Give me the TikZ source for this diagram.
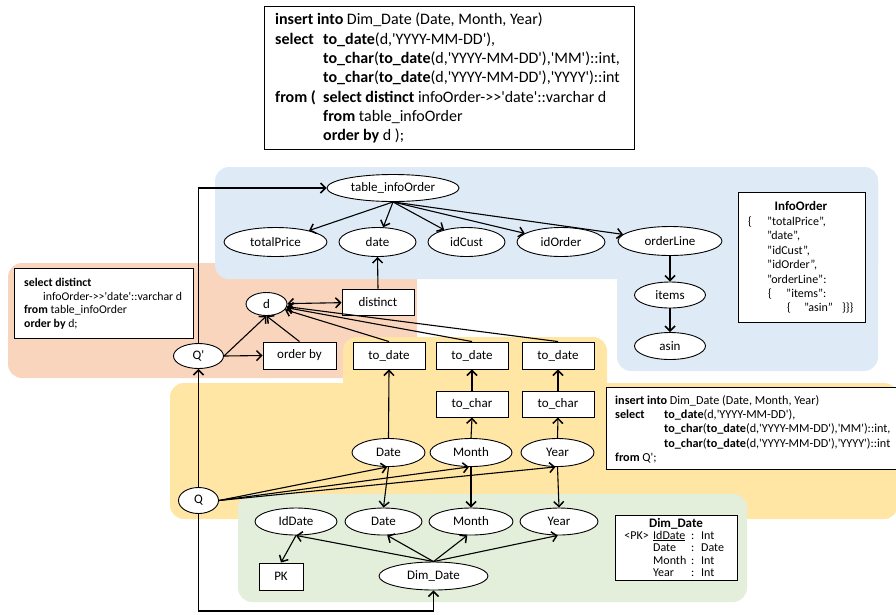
\documentclass[tikz,border=0pt]{standalone}
\usepackage{fontspec}
\setmainfont{Carlito}
\usetikzlibrary{arrows.meta,shapes.geometric}
% straight apostrophe and plain ">>", kept out of the TeX quote mapping
\newcommand\sq{\XeTeXglyph\XeTeXcharglyph"27\relax}
\newcommand\dblgt{>\kern0pt>}
\definecolor{bgblue}{RGB}{222,235,247}
\definecolor{bgorange}{RGB}{249,213,190}
\definecolor{bgyellow}{RGB}{255,230,165}
\definecolor{bggreen}{RGB}{227,239,219}
\begin{document}
\begin{tikzpicture}[x=1pt,y=-1pt,
  lbl/.style={font=\fontsize{13}{15}\selectfont},
  ell/.style={ellipse, draw, fill=white, line width=0.9pt, inner sep=0pt, lbl},
  box/.style={rectangle, draw, fill=white, line width=0.9pt, inner sep=0pt, lbl},
  frame/.style={rectangle, draw, fill=white, line width=0.9pt, inner sep=0pt, anchor=north west},
  barb/.tip={Straight Barb[length=5pt,width=10pt,line width=1.5pt]},
  arr/.style={line width=1.1pt, -barb},
  biarr/.style={line width=1.1pt, barb-barb},
  big/.style={anchor=base west, inner sep=0pt, font=\fontsize{16}{18}\selectfont},
  mid/.style={anchor=base west, inner sep=0pt, font=\fontsize{12.2}{14}\selectfont},
  small/.style={anchor=base west, inner sep=0pt, font=\fontsize{11.8}{13}\selectfont},
  schema/.style={anchor=base west, inner sep=0pt, font=\fontsize{12}{13}\selectfont},
  region/.style={rounded corners=14pt},
]
\useasboundingbox (0,0) rectangle (896,614);

% ---- coloured areas ----
\fill[bgorange, region] (8,263) rectangle (417,378);
\fill[bgblue, region] (215,167) rectangle (878,279);
\fill[bgblue, region] (617,167) rectangle (878,371);
\fill[bgyellow, region] (343,337) rectangle (607,400);
\fill[bgyellow, region] (170,383) rectangle (898,519);
\fill[bggreen, region] (238,494) rectangle (747,602);

% ---- SQL of the whole load ----
\node[frame, minimum width=370pt, minimum height=143pt] (sqltop) at (264,6) {};
\node[big] (t1) at (275,24.8) {\textbf{insert into} Dim\_Date (Date, Month, Year)};
\node[big] (t2a) at (275,44.1) {\textbf{select}};
\node[big] (t2b) at (323,44.1) {\textbf{to\_date}(d,\sq YYYY-MM-DD\sq),};
\node[big] (t3) at (323,63.4) {\textbf{to\_char}(\textbf{to\_date}(d,\sq YYYY-MM-DD\sq),\sq MM\sq)::int,};
\node[big] (t4) at (323,82.7) {\textbf{to\_char}(\textbf{to\_date}(d,\sq YYYY-MM-DD\sq),\sq YYYY\sq)::int};
\node[big] (t5a) at (275,102) {\textbf{from (}};
\node[big] (t5b) at (323,102) {\textbf{select distinct} infoOrder-\dblgt\sq date\sq::varchar d};
\node[big] (t6) at (323,121.3) {\textbf{from} table\_infoOrder};
\node[big] (t7) at (323,140.6) {\textbf{order by} d );};

% ---- sub-query Q' ----
\node[frame, minimum width=179pt, minimum height=70pt] (sqlleft) at (14,268) {};
\node[small] (l1) at (24,286) {\textbf{select distinct}};
\node[small] (l2) at (43,300) {infoOrder-\dblgt\sq date\sq::varchar d};
\node[small] (l3) at (24,313.5) {\textbf{from} table\_infoOrder};
\node[small] (l4) at (24,327.5) {\textbf{order by} d;};

% ---- insert of Q ----
\node[frame, minimum width=300pt, minimum height=82pt] (sqlright) at (606,387) {};
\node[mid] (r1) at (615,404) {\textbf{insert into} Dim\_Date (Date, Month, Year)};
\node[mid] (r2a) at (615,418) {\textbf{select}};
\node[mid] (r2b) at (664,418) {\textbf{to\_date}(d,\sq YYYY-MM-DD\sq),};
\node[mid] (r3) at (664,432.8) {\textbf{to\_char}(\textbf{to\_date}(d,\sq YYYY-MM-DD\sq),\sq MM\sq)::int,};
\node[mid] (r4) at (664,447.3) {\textbf{to\_char}(\textbf{to\_date}(d,\sq YYYY-MM-DD\sq),\sq YYYY\sq)::int};
\node[mid] (r5) at (615,461.8) {\textbf{from} Q\sq;};

% ---- document schema ----
\node[frame, minimum width=127pt, minimum height=130pt] (infobox) at (738,192) {};
\node[anchor=base, inner sep=0pt, font=\fontsize{13}{14}\selectfont\bfseries] (ititle) at (801,210.5) {InfoOrder};
\node[schema] (i1a) at (748,225.8) {\{};
\node[schema] (i1b) at (767,225.8) {"totalPrice",};
\node[schema] (i2) at (767,239.8) {"date",};
\node[schema] (i3) at (767,254) {"idCust",};
\node[schema] (i4) at (767,268.5) {"idOrder",};
\node[schema] (i5) at (767,283) {"orderLine":};
\node[schema] (i6a) at (768,297.8) {\{};
\node[schema] (i6b) at (786,297.8) {"items":};
\node[schema] (i7a) at (787,311) {\{};
\node[schema] (i7b) at (804,311) {"asin"};
\node[schema] (i7c) at (842,311) {\}\}\}};

% ---- relational schema ----
\node[frame, minimum width=122pt, minimum height=65pt] (dimbox) at (615,515) {};
\node[anchor=base, inner sep=0pt, font=\fontsize{13}{14}\selectfont\bfseries] (dtitle) at (676,527.3) {Dim\_Date};
\node[schema, anchor=base east] (k1) at (649,539) {<PK>};
\node[schema] (k2) at (653,539) {\underline{IdDate}};
\node[schema] (k3) at (653,551) {Date};
\node[schema] (k4) at (653,564) {Month};
\node[schema] (k5) at (653,576.5) {Year};
\foreach \yy/\val [count=\i] in {539/Int,551/Date,564/Int,576.5/Int}{
  \node[schema] (c\i) at (691,\yy) {:};
  \node[schema] (v\i) at (701,\yy) {\val};
}

% ---- document side ----
\node[ell, minimum width=132pt, minimum height=27pt] (tio) at (393,188) {table\_infoOrder};
\node[ell, minimum width=103pt, minimum height=29pt] (tp) at (275.5,242) {totalPrice};
\node[ell, minimum width=77pt, minimum height=29pt] (dt) at (377.5,242) {date};
\node[ell, minimum width=77pt, minimum height=29pt] (ic) at (466.5,242) {idCust};
\node[ell, minimum width=88pt, minimum height=29pt] (io) at (561,242) {idOrder};
\node[ell, minimum width=104pt, minimum height=29pt] (ol) at (670,241) {orderLine};
\node[ell, minimum width=71pt, minimum height=26pt] (it) at (670,295) {items};
\node[ell, minimum width=71pt, minimum height=27pt] (as) at (670,346) {asin};

% ---- Q' operators ----
\node[ell, minimum width=41pt, minimum height=23pt] (d) at (266.5,304) {d};
\node[box, minimum width=72pt, minimum height=26pt] (dist) at (378,302) {distinct};
\node[ell, minimum width=50pt, minimum height=25pt] (qp) at (198.5,356) {Q\sq};
\node[box, minimum width=73pt, minimum height=27pt] (ob) at (299.5,355.5) {order by};

% ---- Q operators ----
\node[box, minimum width=72pt, minimum height=27pt] (td1) at (389,355.5) {to\_date};
\node[box, minimum width=72pt, minimum height=27pt] (td2) at (472,355.5) {to\_date};
\node[box, minimum width=72pt, minimum height=27pt] (td3) at (558,355.5) {to\_date};
\node[box, minimum width=72pt, minimum height=26pt] (tc2) at (472,404) {to\_char};
\node[box, minimum width=72pt, minimum height=26pt] (tc3) at (558,404) {to\_char};
\node[ell, minimum width=73pt, minimum height=28pt] (du) at (388.5,452.5) {Date};
\node[ell, minimum width=82pt, minimum height=28pt] (mu) at (471,452.5) {Month};
\node[ell, minimum width=73pt, minimum height=28pt] (yu) at (557.5,452.5) {Year};
\node[ell, minimum width=40pt, minimum height=26pt] (q) at (198.5,500.5) {Q};

% ---- relational side ----
\node[ell, minimum width=82pt, minimum height=27pt] (idd) at (296,521.5) {IdDate};
\node[ell, minimum width=77pt, minimum height=27pt] (dl) at (383.5,521.5) {Date};
\node[ell, minimum width=84pt, minimum height=27pt] (ml) at (471,521.5) {Month};
\node[ell, minimum width=78pt, minimum height=27pt] (yl) at (559,521.5) {Year};
\node[ell, minimum width=109pt, minimum height=28pt] (dd) at (433.5,576) {Dim\_Date};
\node[box, minimum width=44pt, minimum height=27pt] (pk) at (281,576.5) {PK};

% ---- connectors ----
\foreach \t in {tp,dt,ic,io,ol} \draw[arr] (tio.south) -- (\t);
\draw[arr] (ol.south) -- (it.north);
\draw[arr] (it.south) -- (as.north);
\draw[arr] (dist.north) -- (dt.south);
\draw[biarr] (d) -- (dist);
\foreach \t in {td1,td2,td3} \draw[arr] (\t.north) -- (d);
\draw[arr] (qp.east) -- (d.south);
\draw[arr] (qp.east) -- (ob.west);
\draw[arr] (ob.north) -- (d.south);
\draw[arr] (qp.north) -- (qp.north |- tio.west) -- (tio.west);
\draw[arr] (q.north) -- (qp.south);
\draw[arr] (du.north) -- (td1.south);
\draw[arr] (mu.north) -- (tc2.south);
\draw[arr] (tc2.north) -- (td2.south);
\draw[arr] (yu.north) -- (tc3.south);
\draw[arr] (tc3.north) -- (td3.south);
\draw[arr] (q.east) -- (du.265);
\draw[arr] (q.east) -- (mu.262);
\draw[arr] (q.east) -- (yu.262);
\draw[arr] (du.south) -- (dl.north);
\draw[arr] (mu.south) -- (ml.north);
\draw[arr] (yu.south) -- (yl.north);
\draw[arr] (dd.north) -- (idd.south);
\draw[arr] (dd.north) -- (dl.285);
\draw[arr] (dd.north) -- (ml.255);
\draw[arr] (dd.north) -- (yl.265);
\draw[arr] (idd.south) -- (pk.north);
\coordinate (rail) at (0,611);
\draw[arr] (q.south) -- (q.south |- rail) -- (dd.south |- rail) -- (dd.south);
\end{tikzpicture}
\end{document}
